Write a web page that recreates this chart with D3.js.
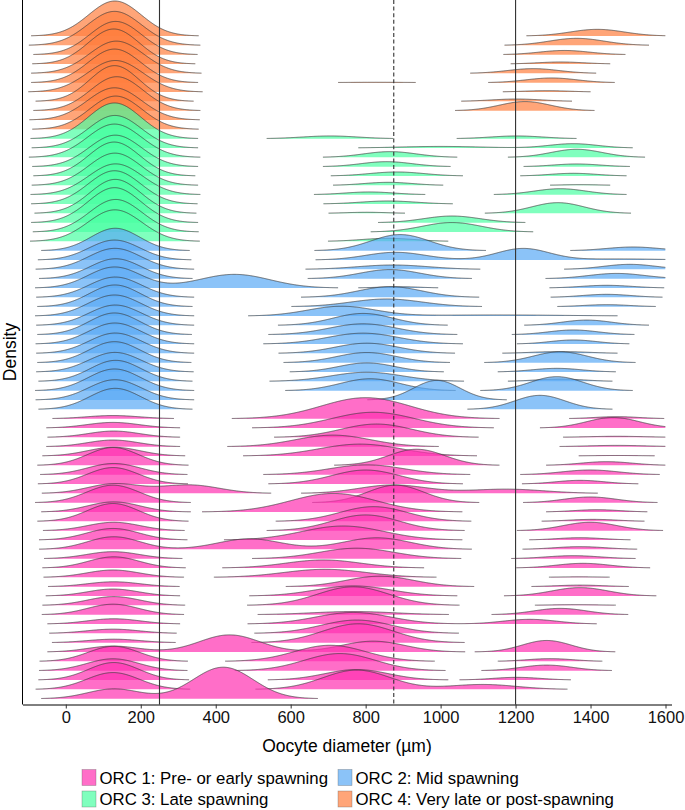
<!DOCTYPE html>
<html><head><meta charset="utf-8">
<script src="https://cdn.jsdelivr.net/npm/d3@7"></script>
<style>
body{margin:0;background:#fff}
svg{display:block}
text{font-family:"Liberation Sans",Arial,sans-serif}
</style>
</head><body>
<svg id="chart" width="685" height="810"></svg>
<script>
// ---------- DATA ----------
// Each row (one sample) is a list of density components: [mean diameter (µm), spread (µm), relative height]
const categories = ["ORC 1: Pre- or early spawning", "ORC 2: Mid spawning", "ORC 3: Late spawning", "ORC 4: Very late or post-spawning"];

const orc4Rows = [
  [[131,70,1.0],[1418,72,0.19]],
  [[130,72,0.97],[1363,73,0.2]],
  [[133,69,0.95],[1330,67,0.12]],
  [[128,68,1.0],[1320,63,0.057]],
  [[135,72,0.92],[1247,68,0.134]],
  [[130,70,0.96],[830,95,0.011],[1296,68,0.134]],
  [[132,74,0.9],[1283,62,0.037]],
  [[130,66,1.02],[1203,68,0.066]],
  [[136,70,0.97],[1225,68,0.26]],
  [[130,72,0.92]],
  [[133,70,0.95]]
];

const orc3Rows = [
  [[130,70,1.02],[705,75,0.077],[1203,71,0.077]],
  [[131,70,0.93],[1000,110,0.045],[1354,65,0.123]],
  [[130,72,0.95],[865,70,0.163],[1363,68,0.23]],
  [[132,70,0.9],[856,68,0.143],[1363,63,0.077]],
  [[129,68,0.97],[883,73,0.115],[1354,63,0.077]],
  [[131,70,0.92],[860,64,0.086],[1372,52,0.02]],
  [[133,72,0.88],[810,66,0.077],[1319,69,0.17]],
  [[130,70,0.95],[860,75,0.086]],
  [[132,68,0.97],[803,57,0.03],[1313,70,0.305]],
  [[130,70,1.0],[1030,75,0.19]],
  [[133,70,0.93],[1030,79,0.27]],
  [[131,72,0.9],[860,70,0.086]]
];

const orc2Rows = [
  [[132,65,0.64],[892,78,0.46],[1513,70,0.105]],
  [[130,68,0.57],[880,80,0.22],[1220,70,0.33],[1480,110,0.03]],
  [[131,70,0.6],[873,95,0.124],[1505,70,0.143]],
  [[133,68,0.57],[865,80,0.26],[1470,75,0.15]],
  [[130,70,0.6],[450,95,0.39],[890,55,0.037],[1443,68,0.077]],
  [[132,70,0.58],[865,85,0.305],[1443,65,0.086]],
  [[131,68,0.62],[856,95,0.22],[1443,62,0.057]],
  [[130,70,0.6],[735,90,0.277],[1150,180,0.03]],
  [[132,70,0.58],[793,80,0.34],[1390,66,0.15]],
  [[130,68,0.62],[793,90,0.31],[1354,66,0.134]],
  [[131,70,0.6],[793,95,0.31],[1354,62,0.115]],
  [[132,70,0.58],[803,85,0.29],[1319,75,0.05]],
  [[130,68,0.6],[803,80,0.29],[1319,72,0.31]],
  [[131,70,0.56],[803,75,0.26],[1310,66,0.105]],
  [[133,68,0.6],[803,95,0.26],[1319,64,0.066]],
  [[130,70,0.62],[812,80,0.34],[1310,70,0.4]],
  [[131,70,0.58],[990,62,0.56]],
  [[132,68,0.6],[1265,67,0.4]]
];

const orc1Rows = [
  [[126,70,0.09],[800,118,0.6],[1470,60,0.057]],
  [[126,70,0.16],[820,110,0.45],[1460,70,0.3]],
  [[128,68,0.18],[829,95,0.38],[1470,80,0.03]],
  [[126,68,0.19],[713,100,0.33],[1470,80,0.037]],
  [[128,70,0.25],[785,110,0.34],[1470,75,0.015]],
  [[126,68,0.51],[936,75,0.46],[1443,68,0.105]],
  [[128,70,0.32],[803,100,0.28],[1399,75,0.134]],
  [[126,68,0.47],[800,90,0.4],[1372,65,0.105]],
  [[128,70,0.27],[330,80,0.24],[873,90,0.24],[1176,100,0.12]],
  [[126,70,0.5],[880,75,0.5],[1399,70,0.163]],
  [[128,70,0.29],[714,115,0.53],[1417,62,0.066]],
  [[126,68,0.51],[821,90,0.42],[1407,65,0.057]],
  [[128,70,0.24],[800,90,0.45],[1399,72,0.24]],
  [[126,70,0.33],[740,110,0.4],[1372,62,0.066]],
  [[128,70,0.36],[490,85,0.3],[830,90,0.33],[1372,68,0.077]],
  [[126,70,0.2],[776,100,0.3],[1354,72,0.086]],
  [[128,68,0.32],[687,100,0.23],[1380,72,0.134]],
  [[126,70,0.21],[692,110,0.23],[1370,60,0.015]],
  [[128,70,0.14],[838,90,0.3],[1372,65,0.045]],
  [[126,68,0.2],[767,100,0.29],[1372,75,0.24]],
  [[128,70,0.25],[767,95,0.53],[1360,70,0.02]],
  [[126,68,0.3],[767,110,0.09],[1319,70,0.18]],
  [[128,70,0.15],[767,100,0.33],[1238,72,0.134]],
  [[126,70,0.12],[776,95,0.38]],
  [[128,70,0.1],[780,95,0.54]],
  [[126,68,0.17],[437,80,0.49],[820,85,0.31],[1283,65,0.33]],
  [[128,68,0.43],[705,95,0.46],[1292,62,0.077]],
  [[126,70,0.34],[731,95,0.49],[1283,68,0.16]],
  [[128,68,0.5],[776,85,0.3],[1203,64,0.077]],
  [[126,70,0.48],[776,90,0.55],[1113,90,0.14]],
  [[128,70,0.28],[420,80,0.9]]
];

const xTicks = [0,200,400,600,800,1000,1200,1400,1600];
const refLines = [250, 875, 1200];

// ---------- STYLE ----------
const fillColors = ["#FF30B0", "#5AAAF5", "#4AFFA2", "#FF7F3E"];
const fillOpacity = 0.7;
const refDashed = [false, true, false];

// ---------- BUILD ----------
const rows = [
  ...orc4Rows.map(c => ({g:3, c})),
  ...orc3Rows.map(c => ({g:2, c})),
  ...orc2Rows.map(c => ({g:1, c})),
  ...orc1Rows.map(c => ({g:0, c}))
];

const svg = d3.select("#chart");
const x = d3.scaleLinear().domain([-115.5, 1616]).range([22.5, 671.5]);
const yRow = d3.scalePoint().domain(d3.range(rows.length)).range([36, 698.7]);
const h = d3.scaleLinear().domain([0, 1]).range([0, 35]);
const grid = d3.range(-100, 1600.001, 1.5);
const cutoff = 0.006;

const ridges = svg.append("g");
rows.forEach((r, i) => {
  const vals = grid.map(xv => [xv, d3.sum(r.c, ([m, s, a]) => a * Math.exp(-0.5 * ((xv - m) / s) ** 2))]);
  const segs = [];
  let seg = [];
  vals.forEach(v => {
    if (v[1] >= cutoff) seg.push(v);
    else { if (seg.length > 1) segs.push(seg); seg = []; }
  });
  if (seg.length > 1) segs.push(seg);
  const b = yRow(i);
  const area = d3.area().x(d => x(d[0])).y0(b).y1(d => b - h(d[1]));
  const line = d3.line().x(d => x(d[0])).y(d => b - h(d[1]));
  const g = ridges.append("g");
  segs.forEach(s => {
    g.append("path").attr("d", area(s)).attr("fill", fillColors[r.g]).attr("fill-opacity", fillOpacity);
  });
  segs.forEach(s => {
    g.append("path").attr("d", line(s)).attr("fill", "none").attr("stroke", "#383838").attr("stroke-width", 0.7);
  });
});

// reference lines
const yTop = 0, yBot = 704.5;
refLines.forEach((v, k) => {
  svg.append("line")
    .attr("x1", x(v)).attr("x2", x(v)).attr("y1", yTop).attr("y2", yBot)
    .attr("stroke", "#333").attr("stroke-width", 1.1)
    .attr("stroke-dasharray", refDashed[k] ? "4,2.6" : null);
});

// axes
const xAxis = d3.axisBottom(x).tickValues(xTicks).tickFormat(d3.format("d"))
  .tickSize(4).tickSizeOuter(0).tickPadding(3);
const ax = svg.append("g").attr("transform", `translate(0,${yBot})`).call(xAxis);
ax.select(".domain").attr("stroke", "#000").attr("stroke-width", 1);
ax.selectAll(".tick line").attr("stroke", "#333");
ax.selectAll(".tick text").attr("font-size", 16.5).attr("fill", "#111")
  .attr("font-family", '"Liberation Sans", Arial, sans-serif');

svg.append("line").attr("x1", 22.5).attr("x2", 22.5).attr("y1", 0).attr("y2", yBot)
  .attr("stroke", "#000").attr("stroke-width", 1);

svg.append("text").attr("x", 347).attr("y", 751.5).attr("text-anchor", "middle")
  .attr("font-size", 17.5).text("Oocyte diameter (µm)");

svg.append("text").attr("transform", "translate(15.5,352) rotate(-90)").attr("text-anchor", "middle")
  .attr("font-size", 17.5).text("Density");

// legend
const legendPos = [[82, 769.5], [338, 769.5], [82, 791], [338, 791]];
categories.forEach((c, k) => {
  const [lx, ly] = legendPos[k];
  svg.append("rect").attr("x", lx).attr("y", ly).attr("width", 14).attr("height", 16)
    .attr("fill", fillColors[k]).attr("fill-opacity", fillOpacity)
    .attr("stroke", "#555").attr("stroke-opacity", 0.5).attr("stroke-width", 0.6);
  svg.append("text").attr("x", lx + 17.5).attr("y", ly + 14).attr("font-size", 16.8).text(c);
});
</script>
</body></html>
